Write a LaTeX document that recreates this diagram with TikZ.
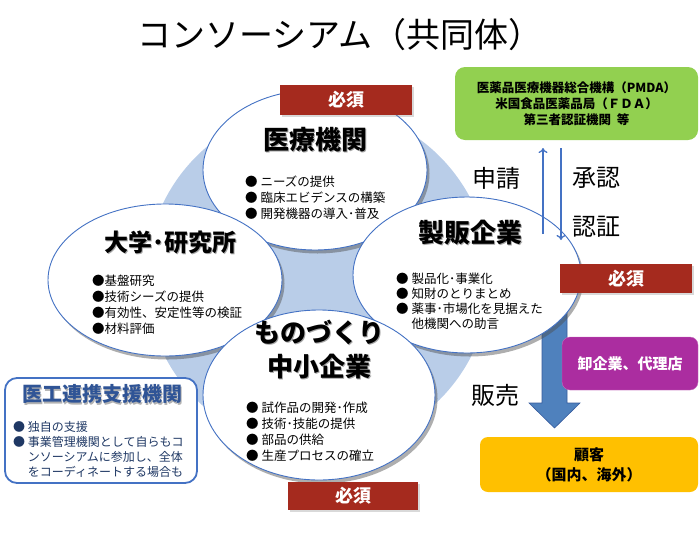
\documentclass[tikz,border=0pt]{standalone}
\usepackage{fontspec}
\setmainfont{Noto Sans CJK JP}
\usetikzlibrary{shapes.geometric,shadows,arrows.meta}
\definecolor{bgblue}{HTML}{B9CDE8}
\definecolor{edgeblue}{HTML}{4472C4}
\definecolor{mustred}{HTML}{A52A1E}
\definecolor{mygreen}{HTML}{92D050}
\definecolor{mypurple}{HTML}{AB2DA0}
\definecolor{myorange}{HTML}{FFC000}
\definecolor{navy}{HTML}{1F3864}
\definecolor{navytitle}{HTML}{2F5496}
\definecolor{arrowblue}{HTML}{4F81BD}
\newcommand{\shd}[2][black!35]{\makebox[0pt][l]{\hspace{1.5pt}\raisebox{-1.5pt}{\color{#1}#2}}#2}
\newcommand{\fs}[2]{\fontsize{#1}{#2}\selectfont}
\begin{document}
\begin{tikzpicture}[x=1pt,y=-1pt,
  ell/.style={ellipse, draw=edgeblue, line width=0.9pt, fill=white,
    drop shadow={shadow xshift=2.5pt, shadow yshift=-3.5pt, opacity=0.45, fill=black!70}},
  musttag/.style={fill=mustred, text=white, font=\bfseries\fs{18}{20}, inner sep=0pt,
    drop shadow={shadow xshift=1.5pt, shadow yshift=-1.5pt, opacity=0.3}},
  ttl/.style={font=\bfseries\fs{26}{30}, inner sep=0pt},
  bul/.style={font=\fs{12.5}{16}, inner sep=0pt, anchor=west, align=left},
  big/.style={font=\fs{24}{28}, inner sep=0pt},
  thinarrow/.style={draw=edgeblue, line width=1.3pt, -{To[length=5pt,width=9pt]}},
]
\useasboundingbox (0,0) rectangle (700,536);

% title
\node[font=\fs{34}{38}, inner sep=0pt] (title) at (340,35) {コンソーシアム（共同体）};

% big blue arrow
\fill[arrowblue, draw=edgeblue!80!black, line width=0.6pt]
  (542,300) -- (567,300) -- (567,403) -- (580,403) -- (554.5,428) -- (529,403) -- (542,403) -- cycle;

% background circle
\node[circle, fill=bgblue, minimum size=344pt, inner sep=0pt] (bg) at (318,278) {};

% ellipses
\node[ell, minimum width=224pt, minimum height=160pt] (med) at (315,170) {};
\node[ell, minimum width=234pt, minimum height=152pt] (uni) at (165,280) {};
\node[ell, minimum width=228pt, minimum height=156pt] (mfg) at (467,275) {};
\node[ell, minimum width=232pt, minimum height=170pt] (sme) at (319,395) {};

% medical
\node[ttl] (medT) at (315,140) {\shd{医療機関}};
\node[bul] (medB) at (245,199) {\begin{tabular}{@{}l@{\ }l@{}}●&ニーズの提供\\●&臨床エビデンスの構築\\●&開発機器の導入･普及\end{tabular}};

% university
\node[ttl, font=\bfseries\fs{24}{28}] (uniT) at (170,243) {\shd{大学･研究所}};
\node[bul] (uniB) at (92,306) {\begin{tabular}{@{}l@{}l@{}}●&基盤研究\\●&技術シーズの提供\\●&有効性、安定性等の検証\\●&材料評価\end{tabular}};

% manufacturer/seller
\node[ttl] (mfgT) at (470,233) {\shd{製販企業}};
\node[bul, font=\fs{12.5}{15}] (mfgB) at (396,303) {\begin{tabular}{@{}l@{\ }l@{}}●&製品化･事業化\\●&知財のとりまとめ\\●&薬事･市場化を見据えた\\&他機関への助言\end{tabular}};

% SME
\node[ttl] (smeT1) at (319,333) {\shd{ものづくり}};
\node[ttl] (smeT2) at (319,367) {\shd{中小企業}};
\node[bul] (smeB) at (246,433) {\begin{tabular}{@{}l@{\ }l@{}}●&試作品の開発･作成\\●&技術･技能の提供\\●&部品の供給\\●&生産プロセスの確立\end{tabular}};

% must tags
\node[musttag, minimum width=132pt, minimum height=30pt] (must1) at (346,100) {必須};
\node[musttag, minimum width=132pt, minimum height=29pt] (must2) at (626,278.5) {必須};
\node[musttag, minimum width=130pt, minimum height=28pt] (must3) at (353,496) {必須};

% green box
\node[fill=mygreen, rounded corners=10pt, minimum width=243pt, minimum height=73pt, inner sep=0pt,
  font=\bfseries\fs{12.5}{16}, align=center] (pmda) at (576.5,103.5)
  {医薬品医療機器総合機構（PMDA）\\米国食品医薬品局（ＦＤＡ）\\第三者認証機関\ \ 等};

% application / approval arrows
\coordinate (upS) at (543,234);
\coordinate (upE) at (543,148);
\coordinate (dnS) at (561,148);
\coordinate (dnE) at (561,240);
\draw[thinarrow] (upS) -- (upE);
\draw[thinarrow] (dnS) -- (dnE);
\node[big] (apply) at (496,178) {申請};
\node[big] (approve) at (596,178) {承認};
\node[big] (certify) at (596,227) {認証};
\node[big] (sales) at (495,395) {販売};

% purple box
\node[fill=mypurple, draw=mypurple!70!white, rounded corners=8pt, minimum width=136pt, minimum height=53pt,
  inner sep=0pt, text=white, font=\bfseries\fs{15}{18}] (dist) at (630,363.5) {卸企業、代理店};

% orange box
\node[fill=myorange, rounded corners=8pt, minimum width=218pt, minimum height=55pt, inner sep=0pt,
  font=\bfseries\fs{15}{20}, align=center] (cust) at (589,464.5) {顧客\\（国内、海外）};

% left box
\node[draw=edgeblue, line width=1.8pt, fill=white, rounded corners=12pt, minimum width=192pt,
  minimum height=105pt, inner sep=0pt] (support) at (101,430.5) {};
\node[font=\bfseries\fs{20}{24}, text=navytitle, inner sep=0pt] (supportT) at (102,395) {\shd[black!30]{医工連携支援機関}};
\node[bul, font=\fs{12}{15}, text=navy] (supportB) at (13,451) {\begin{tabular}{@{}l@{\ }l@{}}●&独自の支援\\●&事業管理機関として自らもコ\\&ンソーシアムに参加し、全体\\&をコーディネートする場合も\end{tabular}};
\end{tikzpicture}
\end{document}
